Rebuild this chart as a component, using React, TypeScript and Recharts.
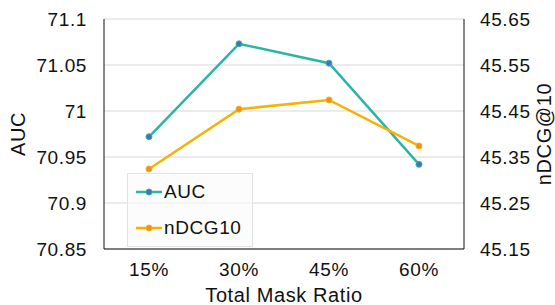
import {
  LineChart,
  Line,
  XAxis,
  YAxis,
  CartesianGrid,
} from "recharts";

const ratios = ["15%", "30%", "45%", "60%"];
const aucValues = [70.972, 71.073, 71.052, 70.942];
const ndcgValues = [45.324, 45.454, 45.474, 45.374];
const aucTicks = [70.85, 70.9, 70.95, 71, 71.05, 71.1];
const ndcgTicks = [45.15, 45.25, 45.35, 45.45, 45.55, 45.65];
const seriesNames = ["AUC", "nDCG10"];

const data = ratios.map((ratio, i) => ({
  ratio,
  AUC: aucValues[i],
  nDCG10: ndcgValues[i],
}));

const TEAL = "#2bb5a4";
const ORANGE = "#f6b200";
const FONT = "'Liberation Sans', Arial, Helvetica, sans-serif";
const tickStyle = { fill: "#111", fontSize: 19, fontFamily: FONT, letterSpacing: 0.6 };

function fmt(v: number) {
  return String(Number(v.toFixed(2)));
}

function SideLabel({ viewBox, value, dx }: any) {
  const cx = viewBox.x + dx;
  const cy = viewBox.y + viewBox.height / 2;
  return (
    <text
      x={cx}
      y={cy}
      transform={`rotate(-90, ${cx}, ${cy})`}
      textAnchor="middle"
      dominantBaseline="central"
      fontSize={20}
      fontFamily={FONT}
      letterSpacing={0.6}
      fill="#111"
    >
      {value}
    </text>
  );
}

// legend drawn as an overlay so it doesn't shrink the plot
function LegendBox() {
  const items = [
    { name: seriesNames[0], color: TEAL, dot: "#4a6fc0" },
    { name: seriesNames[1], color: ORANGE, dot: "#f08c2c" },
  ];
  return (
    <div
      style={{
        position: "absolute",
        left: 127,
        top: 173,
        width: 126,
        height: 74,
        boxSizing: "border-box",
        background: "rgba(250,250,250,0.65)",
        border: "1px solid #e2e2e2",
        fontFamily: FONT,
      }}
    >
      {items.map((it) => (
        <div
          key={it.name}
          style={{ height: 36, display: "flex", alignItems: "center", paddingLeft: 7 }}
        >
          <svg width={28} height={10}>
            <line x1={1} y1={5} x2={27} y2={5} stroke={it.color} strokeWidth={2.5} />
            <circle cx={14} cy={5} r={3} fill={it.dot} stroke={it.color} strokeWidth={1} />
          </svg>
          <span style={{ fontSize: 19, color: "#111", letterSpacing: 0.6, marginLeft: 1 }}>
            {it.name}
          </span>
        </div>
      ))}
    </div>
  );
}

export default function App() {
  return (
    <div style={{ position: "absolute", left: 0, top: 0, width: 555, height: 305, background: "#fff" }}>
      <LineChart
        width={555}
        height={305}
        data={data}
        margin={{ top: 19, right: 0, bottom: 0, left: 0 }}
      >
        <CartesianGrid
          vertical={false}
          stroke="#d9d9d9"
          strokeWidth={1.2}
          yAxisId="auc"
        />
        <XAxis
          dataKey="ratio"
          height={56}
          padding={{ left: 45, right: 45 }}
          stroke="#111"
          tickLine={false}
          tickSize={0}
          tickMargin={14}
          tick={tickStyle}
          label={{
            value: "Total Mask Ratio",
            position: "insideBottom",
            offset: 3,
            fontSize: 20,
            fontFamily: FONT,
            fill: "#111",
            letterSpacing: 0.6,
          }}
        />
        <XAxis
          xAxisId="top"
          dataKey="ratio"
          orientation="top"
          height={0}
          padding={{ left: 45, right: 45 }}
          tick={false}
          tickLine={false}
          stroke="#111"
        />
        <YAxis
          yAxisId="auc"
          width={104}
          domain={[70.85, 71.1]}
          ticks={aucTicks}
          interval={0}
          tickFormatter={fmt}
          stroke="#111"
          tickLine={false}
          tickSize={0}
          tickMargin={17}
          tick={tickStyle}
          label={(p: any) => <SideLabel {...p} value="AUC" dx={18} />}
        />
        <YAxis
          yAxisId="ndcg"
          orientation="right"
          width={91}
          domain={[45.15, 45.65]}
          ticks={ndcgTicks}
          interval={0}
          tickFormatter={fmt}
          stroke="#111"
          tickLine={false}
          tickSize={0}
          tickMargin={16}
          tick={tickStyle}
          label={(p: any) => <SideLabel {...p} value="nDCG@10" dx={80} />}
        />
        <Line
          yAxisId="auc"
          type="linear"
          dataKey="AUC"
          stroke={TEAL}
          strokeWidth={2.5}
          dot={{ r: 3, fill: "#4a6fc0", stroke: TEAL, strokeWidth: 1 }}
          activeDot={false}
          isAnimationActive={false}
        />
        <Line
          yAxisId="ndcg"
          type="linear"
          dataKey="nDCG10"
          stroke={ORANGE}
          strokeWidth={2.5}
          dot={{ r: 3, fill: "#f08c2c", stroke: ORANGE, strokeWidth: 1 }}
          activeDot={false}
          isAnimationActive={false}
        />
      </LineChart>
      <LegendBox />
    </div>
  );
}
